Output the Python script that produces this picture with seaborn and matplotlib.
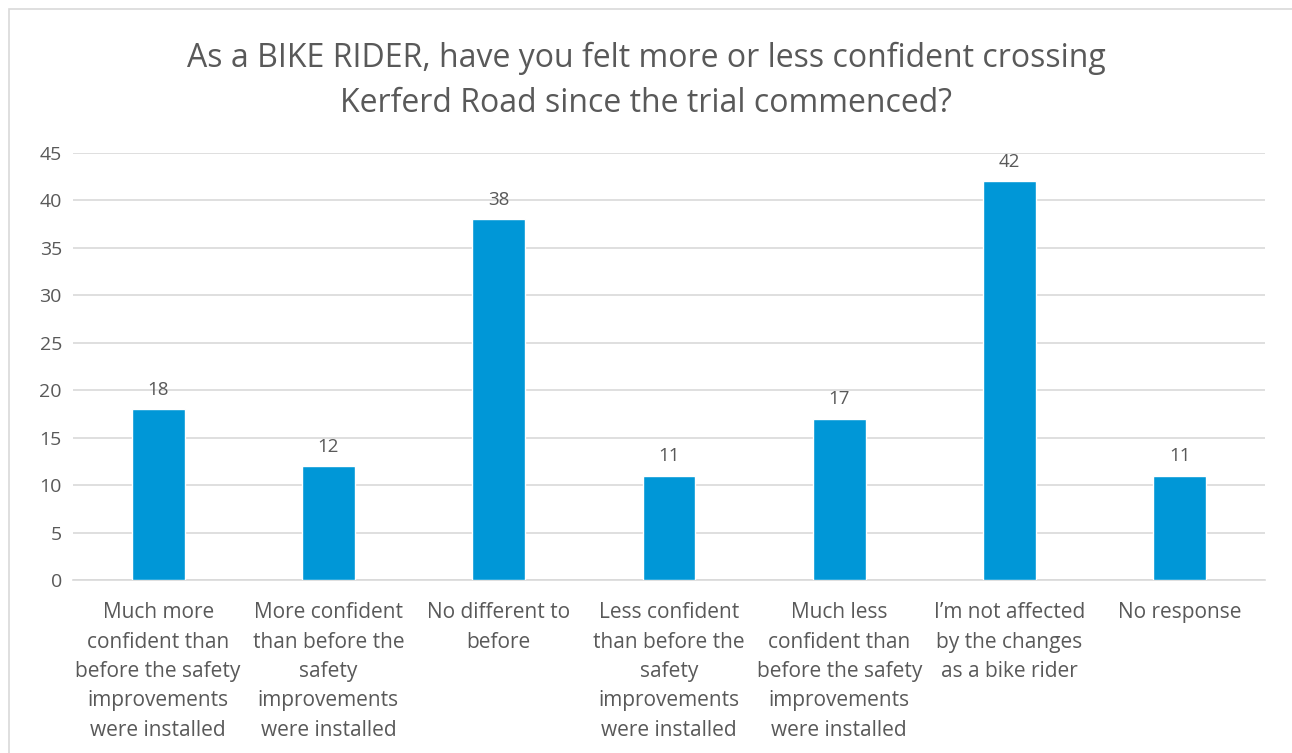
import matplotlib
matplotlib.use("Agg")
import matplotlib.pyplot as plt
import seaborn as sns
import pandas as pd
from matplotlib.patches import Rectangle

# Survey answers (x-axis labels wrapped as in the original chart)
categories = [
    "Much more\nconfident than\nbefore the safety\nimprovements\nwere installed",
    "More confident\nthan before the\nsafety\nimprovements\nwere installed",
    "No different to\nbefore",
    "Less confident\nthan before the\nsafety\nimprovements\nwere installed",
    "Much less\nconfident than\nbefore the safety\nimprovements\nwere installed",
    "I\u2019m not affected\nby the changes\nas a bike rider",
    "No response",
]
responses = [18, 12, 38, 11, 17, 42, 11]
y_ticks = [0, 5, 10, 15, 20, 25, 30, 35, 40, 45]

title = "As a BIKE RIDER, have you felt more or less confident crossing\nKerferd Road since the trial commenced?"

bar_color = "#0097D7"
text_color = "#595959"
grid_color = "#D9D9D9"

sns.set_style("white")
plt.rcParams["font.family"] = ["Open Sans", "DejaVu Sans"]

df = pd.DataFrame({"answer": categories, "count": responses})

fig = plt.figure(figsize=(12.92, 7.53), dpi=100)
ax = fig.add_axes([73 / 1292, 1 - 580 / 753, (1265 - 73) / 1292, (580 - 153) / 753])

sns.barplot(data=df, x="answer", y="count", color=bar_color, width=0.31,
            saturation=1, ax=ax, zorder=3)

for i, v in enumerate(responses):
    ax.text(i, v + 1.1, str(v), ha="center", va="bottom", fontsize=13.5, color=text_color)

ax.set_ylim(0, 45)
ax.set_yticks(y_ticks)
ax.set_xlim(-0.5, len(categories) - 0.5)
ax.yaxis.grid(True, color=grid_color, linewidth=1.2, zorder=0)
for s in ["top", "right", "left"]:
    ax.spines[s].set_visible(False)
ax.spines["bottom"].set_color(grid_color)
ax.spines["bottom"].set_linewidth(1.2)
ax.tick_params(axis="y", length=0, labelsize=14, colors=text_color, pad=8)
ax.tick_params(axis="x", length=0, labelsize=15, colors=text_color, pad=16)
for lbl in ax.get_xticklabels():
    lbl.set_linespacing(1.52)
ax.set_xlabel("")
ax.set_ylabel("")

fig.text(0.5, 1 - 81 / 753, title, ha="center", va="center", fontsize=23,
         color=text_color, linespacing=1.5)

# light chart frame
fig.patches.append(Rectangle((9 / 1292, -0.1), 1.2, 1 - 9 / 753 + 0.1, transform=fig.transFigure,
                             fill=False, edgecolor=grid_color, linewidth=1.2))

fig.savefig("out.png", dpi=100)
